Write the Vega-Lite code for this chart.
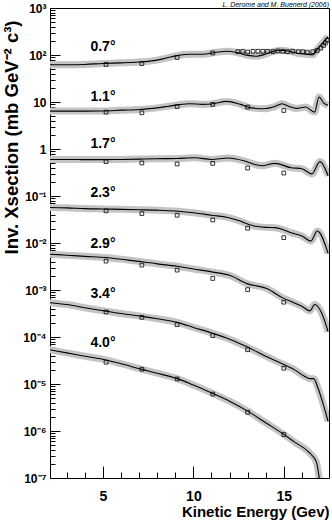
{
  "$schema": "https://vega.github.io/schema/vega-lite/v6.json",
  "width": 279,
  "height": 470,
  "autosize": "none",
  "padding": {"left": 50, "top": 8, "right": 3, "bottom": 44},
  "background": "white",
  "config": {
    "view": {"stroke": "black", "strokeWidth": 1},
    "font": "Liberation Sans"
  },
  "datasets": {
    "curves": [
      {"angle": "0.7", "E": 2.0, "xs": 62}, {"angle": "0.7", "E": 3, "xs": 62}, {"angle": "0.7", "E": 4, "xs": 63}, {"angle": "0.7", "E": 5, "xs": 66}, {"angle": "0.7", "E": 6, "xs": 68}, {"angle": "0.7", "E": 7, "xs": 71}, {"angle": "0.7", "E": 7.8, "xs": 76}, {"angle": "0.7", "E": 8.5, "xs": 86}, {"angle": "0.7", "E": 9.1, "xs": 97}, {"angle": "0.7", "E": 9.8, "xs": 104}, {"angle": "0.7", "E": 10.5, "xs": 104}, {"angle": "0.7", "E": 11.2, "xs": 113}, {"angle": "0.7", "E": 11.85, "xs": 120}, {"angle": "0.7", "E": 12.4, "xs": 113}, {"angle": "0.7", "E": 13.0, "xs": 98}, {"angle": "0.7", "E": 13.5, "xs": 94}, {"angle": "0.7", "E": 13.9, "xs": 102}, {"angle": "0.7", "E": 14.4, "xs": 118}, {"angle": "0.7", "E": 14.8, "xs": 126}, {"angle": "0.7", "E": 15.3, "xs": 120}, {"angle": "0.7", "E": 15.8, "xs": 108}, {"angle": "0.7", "E": 16.2, "xs": 104}, {"angle": "0.7", "E": 16.6, "xs": 101}, {"angle": "0.7", "E": 16.9, "xs": 140}, {"angle": "0.7", "E": 17.2, "xs": 190}, {"angle": "0.7", "E": 17.45, "xs": 245},
      {"angle": "1.1", "E": 2.0, "xs": 6.4}, {"angle": "1.1", "E": 3, "xs": 6.4}, {"angle": "1.1", "E": 4, "xs": 6.4}, {"angle": "1.1", "E": 5, "xs": 6.45}, {"angle": "1.1", "E": 6, "xs": 6.7}, {"angle": "1.1", "E": 7, "xs": 6.95}, {"angle": "1.1", "E": 8, "xs": 7.5}, {"angle": "1.1", "E": 8.6, "xs": 8.1}, {"angle": "1.1", "E": 9.2, "xs": 8.8}, {"angle": "1.1", "E": 9.8, "xs": 9.2}, {"angle": "1.1", "E": 10.5, "xs": 8.9}, {"angle": "1.1", "E": 11.0, "xs": 9.1}, {"angle": "1.1", "E": 11.85, "xs": 10.3}, {"angle": "1.1", "E": 12.6, "xs": 8.9}, {"angle": "1.1", "E": 13.2, "xs": 7.5}, {"angle": "1.1", "E": 13.9, "xs": 7.2}, {"angle": "1.1", "E": 14.5, "xs": 8.0}, {"angle": "1.1", "E": 14.9, "xs": 9.2}, {"angle": "1.1", "E": 15.3, "xs": 8.0}, {"angle": "1.1", "E": 15.7, "xs": 7.3}, {"angle": "1.1", "E": 16.2, "xs": 7.8}, {"angle": "1.1", "E": 16.7, "xs": 6.1}, {"angle": "1.1", "E": 16.95, "xs": 12.8}, {"angle": "1.1", "E": 17.2, "xs": 9.6}, {"angle": "1.1", "E": 17.45, "xs": 8.5},
      {"angle": "1.7", "E": 2.0, "xs": 0.6}, {"angle": "1.7", "E": 3, "xs": 0.6}, {"angle": "1.7", "E": 4, "xs": 0.595}, {"angle": "1.7", "E": 5, "xs": 0.595}, {"angle": "1.7", "E": 6, "xs": 0.6}, {"angle": "1.7", "E": 7, "xs": 0.61}, {"angle": "1.7", "E": 8, "xs": 0.62}, {"angle": "1.7", "E": 9.1, "xs": 0.63}, {"angle": "1.7", "E": 10.1, "xs": 0.65}, {"angle": "1.7", "E": 11.0, "xs": 0.6}, {"angle": "1.7", "E": 11.9, "xs": 0.645}, {"angle": "1.7", "E": 12.8, "xs": 0.56}, {"angle": "1.7", "E": 13.4, "xs": 0.47}, {"angle": "1.7", "E": 13.8, "xs": 0.44}, {"angle": "1.7", "E": 14.5, "xs": 0.495}, {"angle": "1.7", "E": 15.4, "xs": 0.4}, {"angle": "1.7", "E": 16.0, "xs": 0.38}, {"angle": "1.7", "E": 16.55, "xs": 0.295}, {"angle": "1.7", "E": 17.0, "xs": 0.54}, {"angle": "1.7", "E": 17.45, "xs": 0.27},
      {"angle": "2.3", "E": 2.0, "xs": 0.057}, {"angle": "2.3", "E": 3, "xs": 0.056}, {"angle": "2.3", "E": 4, "xs": 0.054}, {"angle": "2.3", "E": 5, "xs": 0.053}, {"angle": "2.3", "E": 6, "xs": 0.052}, {"angle": "2.3", "E": 7, "xs": 0.051}, {"angle": "2.3", "E": 8, "xs": 0.05}, {"angle": "2.3", "E": 9, "xs": 0.048}, {"angle": "2.3", "E": 10, "xs": 0.044}, {"angle": "2.3", "E": 11, "xs": 0.039}, {"angle": "2.3", "E": 11.9, "xs": 0.035}, {"angle": "2.3", "E": 12.5, "xs": 0.03}, {"angle": "2.3", "E": 13.25, "xs": 0.0235}, {"angle": "2.3", "E": 14, "xs": 0.0215}, {"angle": "2.3", "E": 14.5, "xs": 0.0212}, {"angle": "2.3", "E": 15.0, "xs": 0.019}, {"angle": "2.3", "E": 15.4, "xs": 0.0166}, {"angle": "2.3", "E": 16.0, "xs": 0.0141}, {"angle": "2.3", "E": 16.5, "xs": 0.011}, {"angle": "2.3", "E": 16.85, "xs": 0.018}, {"angle": "2.3", "E": 17.45, "xs": 0.006},
      {"angle": "2.9", "E": 2.0, "xs": 0.0058}, {"angle": "2.9", "E": 3, "xs": 0.0055}, {"angle": "2.9", "E": 4, "xs": 0.0052}, {"angle": "2.9", "E": 5.17, "xs": 0.0049}, {"angle": "2.9", "E": 6, "xs": 0.0045}, {"angle": "2.9", "E": 7.15, "xs": 0.004}, {"angle": "2.9", "E": 8, "xs": 0.0036}, {"angle": "2.9", "E": 9.1, "xs": 0.0032}, {"angle": "2.9", "E": 10, "xs": 0.0028}, {"angle": "2.9", "E": 11.07, "xs": 0.0024}, {"angle": "2.9", "E": 12, "xs": 0.00205}, {"angle": "2.9", "E": 13, "xs": 0.00135}, {"angle": "2.9", "E": 14.06, "xs": 0.00108}, {"angle": "2.9", "E": 14.94, "xs": 0.00068}, {"angle": "2.9", "E": 15.5, "xs": 0.00055}, {"angle": "2.9", "E": 16, "xs": 0.00045}, {"angle": "2.9", "E": 16.44, "xs": 0.00036}, {"angle": "2.9", "E": 16.71, "xs": 0.00049}, {"angle": "2.9", "E": 17.1, "xs": 0.00032}, {"angle": "2.9", "E": 17.45, "xs": 0.00013},
      {"angle": "3.4", "E": 2.0, "xs": 0.00054}, {"angle": "3.4", "E": 3, "xs": 0.00049}, {"angle": "3.4", "E": 4, "xs": 0.00042}, {"angle": "3.4", "E": 5.17, "xs": 0.000355}, {"angle": "3.4", "E": 6, "xs": 0.000315}, {"angle": "3.4", "E": 7.15, "xs": 0.000275}, {"angle": "3.4", "E": 8, "xs": 0.000245}, {"angle": "3.4", "E": 9.1, "xs": 0.000205}, {"angle": "3.4", "E": 10, "xs": 0.00016}, {"angle": "3.4", "E": 11.07, "xs": 0.00012}, {"angle": "3.4", "E": 12, "xs": 0.00009}, {"angle": "3.4", "E": 13, "xs": 0.000061}, {"angle": "3.4", "E": 14, "xs": 0.000039}, {"angle": "3.4", "E": 14.94, "xs": 0.0000265}, {"angle": "3.4", "E": 15.6, "xs": 0.00002}, {"angle": "3.4", "E": 16.1, "xs": 0.000015}, {"angle": "3.4", "E": 16.45, "xs": 0.000013}, {"angle": "3.4", "E": 16.65, "xs": 0.000013}, {"angle": "3.4", "E": 16.9, "xs": 0.000008}, {"angle": "3.4", "E": 17.2, "xs": 0.0000035}, {"angle": "3.4", "E": 17.45, "xs": 0.0000016},
      {"angle": "4.0", "E": 2.0, "xs": 0.000054}, {"angle": "4.0", "E": 3, "xs": 0.000046}, {"angle": "4.0", "E": 4, "xs": 0.000039}, {"angle": "4.0", "E": 5.17, "xs": 0.0000325}, {"angle": "4.0", "E": 6, "xs": 0.000027}, {"angle": "4.0", "E": 7.15, "xs": 0.0000205}, {"angle": "4.0", "E": 8, "xs": 0.000017}, {"angle": "4.0", "E": 9.1, "xs": 0.000013}, {"angle": "4.0", "E": 10, "xs": 0.0000095}, {"angle": "4.0", "E": 11.07, "xs": 0.0000063}, {"angle": "4.0", "E": 12, "xs": 0.0000043}, {"angle": "4.0", "E": 13, "xs": 0.00000265}, {"angle": "4.0", "E": 14, "xs": 0.0000015}, {"angle": "4.0", "E": 14.94, "xs": 0.00000088}, {"angle": "4.0", "E": 15.6, "xs": 0.00000058}, {"angle": "4.0", "E": 16.4, "xs": 0.00000035}, {"angle": "4.0", "E": 16.8, "xs": 0.00000022}, {"angle": "4.0", "E": 17.0, "xs": 0.00000008}, {"angle": "4.0", "E": 17.2, "xs": 0.00000003}
    ],
    "pts": [
      {"angle": "0.7", "E": 5.17, "xs": 63}, {"angle": "0.7", "E": 7.15, "xs": 65.5}, {"angle": "0.7", "E": 9.1, "xs": 88.5}, {"angle": "0.7", "E": 11.07, "xs": 111},
      {"angle": "0.7", "E": 12.46, "xs": 118}, {"angle": "0.7", "E": 12.73, "xs": 120}, {"angle": "0.7", "E": 13.0, "xs": 116}, {"angle": "0.7", "E": 13.3, "xs": 120}, {"angle": "0.7", "E": 13.57, "xs": 120}, {"angle": "0.7", "E": 13.84, "xs": 120}, {"angle": "0.7", "E": 14.1, "xs": 120}, {"angle": "0.7", "E": 14.4, "xs": 118}, {"angle": "0.7", "E": 14.67, "xs": 122}, {"angle": "0.7", "E": 14.94, "xs": 120}, {"angle": "0.7", "E": 15.2, "xs": 118}, {"angle": "0.7", "E": 15.5, "xs": 120}, {"angle": "0.7", "E": 15.8, "xs": 118}, {"angle": "0.7", "E": 16.05, "xs": 118}, {"angle": "0.7", "E": 16.3, "xs": 115}, {"angle": "0.7", "E": 16.6, "xs": 118}, {"angle": "0.7", "E": 16.85, "xs": 125}, {"angle": "0.7", "E": 17.05, "xs": 140}, {"angle": "0.7", "E": 17.2, "xs": 160}, {"angle": "0.7", "E": 17.3, "xs": 180}, {"angle": "0.7", "E": 17.4, "xs": 205},
      {"angle": "1.1", "E": 5.17, "xs": 6.1}, {"angle": "1.1", "E": 7.15, "xs": 5.9}, {"angle": "1.1", "E": 9.1, "xs": 8.0}, {"angle": "1.1", "E": 11.07, "xs": 8.9}, {"angle": "1.1", "E": 13.0, "xs": 7.8}, {"angle": "1.1", "E": 15.0, "xs": 6.6},
      {"angle": "1.7", "E": 5.17, "xs": 0.538}, {"angle": "1.7", "E": 7.15, "xs": 0.505}, {"angle": "1.7", "E": 9.1, "xs": 0.48}, {"angle": "1.7", "E": 11.07, "xs": 0.494}, {"angle": "1.7", "E": 13.0, "xs": 0.394}, {"angle": "1.7", "E": 15.0, "xs": 0.308},
      {"angle": "2.3", "E": 5.17, "xs": 0.0483}, {"angle": "2.3", "E": 7.15, "xs": 0.0423}, {"angle": "2.3", "E": 9.1, "xs": 0.039}, {"angle": "2.3", "E": 11.07, "xs": 0.031}, {"angle": "2.3", "E": 13.0, "xs": 0.0206}, {"angle": "2.3", "E": 15.0, "xs": 0.013},
      {"angle": "2.9", "E": 5.17, "xs": 0.00412}, {"angle": "2.9", "E": 7.15, "xs": 0.00339}, {"angle": "2.9", "E": 9.1, "xs": 0.00265}, {"angle": "2.9", "E": 11.07, "xs": 0.00176}, {"angle": "2.9", "E": 13.0, "xs": 0.00102}, {"angle": "2.9", "E": 15.0, "xs": 0.00055},
      {"angle": "3.4", "E": 5.17, "xs": 0.00034}, {"angle": "3.4", "E": 7.15, "xs": 0.000262}, {"angle": "3.4", "E": 9.1, "xs": 0.000183}, {"angle": "3.4", "E": 11.07, "xs": 0.000107}, {"angle": "3.4", "E": 13.0, "xs": 0.0000536}, {"angle": "3.4", "E": 15.0, "xs": 0.0000216},
      {"angle": "4.0", "E": 5.17, "xs": 0.0000291}, {"angle": "4.0", "E": 7.15, "xs": 0.0000206}, {"angle": "4.0", "E": 9.1, "xs": 0.0000128}, {"angle": "4.0", "E": 11.07, "xs": 0.0000061}, {"angle": "4.0", "E": 13.0, "xs": 0.0000025}, {"angle": "4.0", "E": 15.0, "xs": 0.00000084}
    ],
    "labels": [
      {"label": "0.7°", "E": 5.0, "xs": 147},
      {"label": "1.1°", "E": 5.0, "xs": 12.5},
      {"label": "1.7°", "E": 5.0, "xs": 1.3},
      {"label": "2.3°", "E": 5.0, "xs": 0.117},
      {"label": "2.9°", "E": 5.0, "xs": 0.0096},
      {"label": "3.4°", "E": 5.0, "xs": 0.00081},
      {"label": "4.0°", "E": 5.0, "xs": 0.000073}
    ],
    "credit": [
      {"note": "L. Derome and M. Buenerd (2006)", "E": 17.5, "xs": 1170}
    ]
  },
  "encoding": {
    "x": {
      "field": "E", "type": "quantitative",
      "scale": {"domain": [2.07, 17.5], "nice": false, "zero": false},
      "axis": {
        "title": "Kinetic Energy (Gev)",
        "titleAnchor": "end",
        "titleFont": "Liberation Sans", "titleFontSize": 15, "titleFontWeight": "bold", "titleColor": "black",
        "titlePadding": 1,
        "values": [3, 4, 5, 6, 7, 8, 9, 10, 11, 12, 13, 14, 15, 16, 17],
        "labelExpr": "datum.value % 5 == 0 ? datum.value : ''",
        "labelFont": "Liberation Sans", "labelFontSize": 14, "labelFontWeight": "bold", "labelColor": "black",
        "labelPadding": 23,
        "tickSize": {"condition": {"test": "datum.value % 5 == 0", "value": -12}, "value": -6},
        "tickColor": "black",
        "grid": false, "domain": false
      }
    },
    "y": {
      "field": "xs", "type": "quantitative",
      "scale": {"type": "log", "domain": [1e-7, 1000], "nice": false},
      "axis": {
        "title": "Inv. Xsection  (mb GeV⁻² c³)",
        "titleAnchor": "end",
        "titleY": 12,
        "titleFont": "Liberation Sans", "titleFontSize": 18.5, "titleFontWeight": "bold", "titleColor": "black",
        "titlePadding": 1,
        "values": [1e-7, 2e-7, 3e-7, 4e-7, 5e-7, 6e-7, 7e-7, 8e-7, 9e-7, 1e-6, 2e-6, 3e-6, 4e-6, 5e-6, 6e-6, 7e-6, 8e-6, 9e-6, 1e-5, 2e-5, 3e-5, 4e-5, 5e-5, 6e-5, 7e-5, 8e-5, 9e-5, 1e-4, 2e-4, 3e-4, 4e-4, 5e-4, 6e-4, 7e-4, 8e-4, 9e-4, 0.001, 0.002, 0.003, 0.004, 0.005, 0.006, 0.007, 0.008, 0.009, 0.01, 0.02, 0.03, 0.04, 0.05, 0.06, 0.07, 0.08, 0.09, 0.1, 0.2, 0.3, 0.4, 0.5, 0.6, 0.7, 0.8, 0.9, 1, 2, 3, 4, 5, 6, 7, 8, 9, 10, 20, 30, 40, 50, 60, 70, 80, 90, 100, 200, 300, 400, 500, 600, 700, 800, 900, 1000],
        "labelExpr": "abs(log(datum.value)/LN10 - round(log(datum.value)/LN10)) > 0.001 ? '' : ['10⁻⁷','10⁻⁶','10⁻⁵','10⁻⁴','10⁻³','10⁻²','10⁻¹','1','10','10²','10³'][round(log(datum.value)/LN10)+7]",
        "labelFont": "Liberation Sans", "labelFontSize": 12, "labelFontWeight": "bold", "labelColor": "black",
        "labelPadding": 14,
        "tickSize": {"condition": {"test": "abs(log(datum.value)/LN10 - round(log(datum.value)/LN10)) < 0.001", "value": -10}, "value": -5},
        "tickColor": "black",
        "grid": false, "domain": false
      }
    }
  },
  "layer": [
    {
      "data": {"name": "curves"},
      "mark": {"type": "line", "color": "#c4c4c4", "strokeWidth": 7, "interpolate": "monotone", "clip": true},
      "encoding": {"detail": {"field": "angle"}}
    },
    {
      "data": {"name": "curves"},
      "mark": {"type": "line", "color": "black", "strokeWidth": 1.1, "interpolate": "monotone", "clip": true},
      "encoding": {"detail": {"field": "angle"}}
    },
    {
      "data": {"name": "pts"},
      "mark": {"type": "point", "shape": "square", "filled": false, "color": "black", "strokeWidth": 0.8, "size": 14, "opacity": 1},
      "encoding": {"detail": {"field": "angle"}}
    },
    {
      "data": {"name": "labels"},
      "mark": {"type": "text", "font": "Liberation Sans", "fontSize": 14, "fontWeight": "bold", "color": "black", "align": "center", "baseline": "middle"},
      "encoding": {"text": {"field": "label"}}
    },
    {
      "data": {"name": "credit"},
      "mark": {"type": "text", "font": "Liberation Sans", "fontSize": 7, "fontStyle": "italic", "color": "black", "align": "right", "baseline": "middle", "clip": false},
      "encoding": {"text": {"field": "note"}}
    }
  ]
}
